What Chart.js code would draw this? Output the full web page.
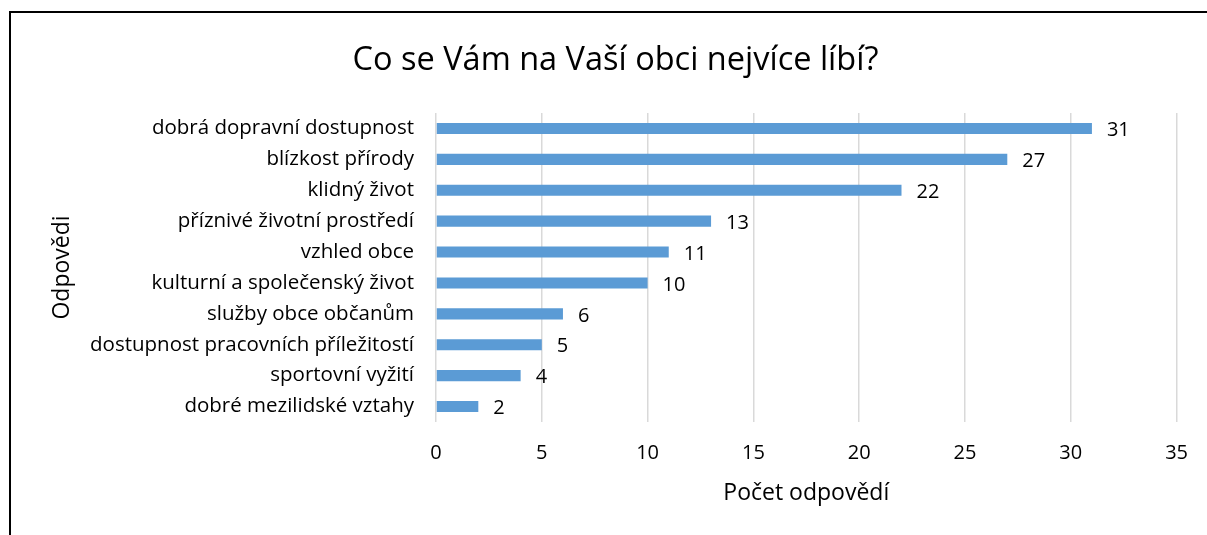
<!DOCTYPE html>
<html>
<head>
<meta charset="utf-8">
<script src="https://cdn.jsdelivr.net/npm/chart.js@4"></script>
<style>
  body { margin: 0; background: #fff; overflow: hidden; }
  #frame { position: absolute; left: 9px; top: 11px; width: 1300px; height: 700px; border: 2px solid #000; }
  #wrap { position: absolute; left: 0; top: 0; width: 1207px; height: 535px; }
</style>
</head>
<body>
<div id="frame"></div>
<div id="wrap"><canvas id="chart" width="1207" height="535"></canvas></div>
<script>
const categories = [
  'dobrá dopravní dostupnost',
  'blízkost přírody',
  'klidný život',
  'příznivé životní prostředí',
  'vzhled obce',
  'kulturní a společenský život',
  'služby obce občanům',
  'dostupnost pracovních příležitostí',
  'sportovní vyžití',
  'dobré mezilidské vztahy'
];
const counts = [31, 27, 22, 13, 11, 10, 6, 5, 4, 2];

const FONT = "'Open Sans', sans-serif";

// draws the value to the right of each bar
const valueLabels = {
  id: 'valueLabels',
  afterDatasetsDraw(chart) {
    const ctx = chart.ctx;
    const meta = chart.getDatasetMeta(0);
    ctx.save();
    ctx.font = '20px ' + FONT;
    ctx.fillStyle = '#000';
    ctx.textAlign = 'left';
    ctx.textBaseline = 'middle';
    meta.data.forEach((bar, i) => {
      ctx.fillText(counts[i], bar.x + 15, bar.y + 2);
    });
    ctx.restore();
  }
};

new Chart(document.getElementById('chart'), {
  type: 'bar',
  data: {
    labels: categories,
    datasets: [{
      data: counts,
      backgroundColor: '#5B9BD5',
      barPercentage: 0.72,
      categoryPercentage: 0.5
    }]
  },
  options: {
    indexAxis: 'y',
    responsive: false,
    animation: false,
    layout: { padding: { left: 49, right: 25, top: 0, bottom: 28 } },
    plugins: {
      legend: { display: false },
      tooltip: { enabled: false },
      title: {
        display: true,
        text: 'Co se Vám na Vaší obci nejvíce líbí?',
        color: '#000',
        font: { family: FONT, size: 32.5, weight: 'normal' },
        padding: { top: 41, bottom: 33 }
      }
    },
    scales: {
      x: {
        min: 0,
        max: 35,
        ticks: { stepSize: 5, color: '#000', padding: 19, font: { family: FONT, size: 20 } },
        grid: { color: '#D9D9D9', lineWidth: 1.5, drawTicks: false },
        border: { display: false },
        title: { display: true, text: 'Počet odpovědí', color: '#000', padding: { top: 14, bottom: 0 }, font: { family: FONT, size: 23 } },
        afterFit(scale) { scale.height = 85; }
      },
      y: {
        ticks: { color: '#000', padding: 22, font: { family: FONT, size: 20.5 } },
        grid: { display: false, drawTicks: false },
        border: { display: false },
        title: { display: true, text: 'Odpovědi', color: '#000', padding: 0, font: { family: FONT, size: 23 } },
        afterFit(scale) { scale.width = 387; }
      }
    }
  },
  plugins: [valueLabels]
});
</script>
</body>
</html>
